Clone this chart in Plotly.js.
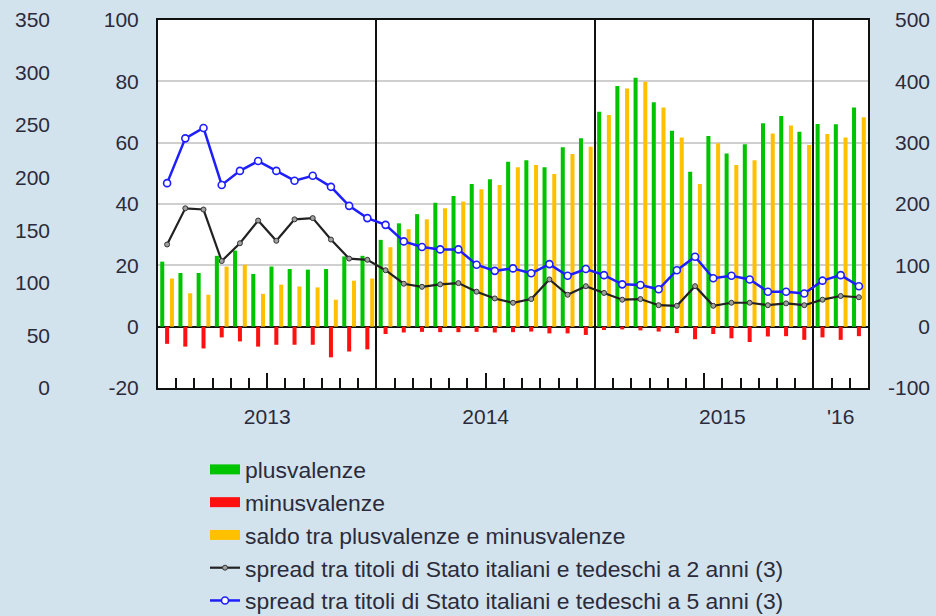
<!DOCTYPE html>
<html><head><meta charset="utf-8">
<script src="https://cdn.plot.ly/plotly-3.0.1.min.js"></script>
<style>html,body{margin:0;padding:0;background:#d3e3ee;} #chart{width:936px;height:616px;}</style>
</head><body><div id="chart"></div>
<script>
const months = [
  '2013-01','2013-02','2013-03','2013-04','2013-05','2013-06','2013-07','2013-08','2013-09','2013-10','2013-11','2013-12',
  '2014-01','2014-02','2014-03','2014-04','2014-05','2014-06','2014-07','2014-08','2014-09','2014-10','2014-11','2014-12',
  '2015-01','2015-02','2015-03','2015-04','2015-05','2015-06','2015-07','2015-08','2015-09','2015-10','2015-11','2015-12',
  '2016-01','2016-02','2016-03'
];
const plusvalenze = [
  21.2, 17.5, 17.5, 23.1, 24.8, 17.2, 19.6, 18.8, 18.6, 18.8, 22.9, 23.1,
  28.3, 33.7, 36.7, 40.4, 42.6, 46.5, 48.1, 53.8, 54.3, 52.0, 58.5, 61.4,
  70.1, 78.5, 81.2, 73.2, 63.9, 50.5, 62.2, 56.5, 59.5, 66.3, 68.7, 63.6,
  66.1, 66.0, 71.5
];
const minusvalenze = [
  -5.6, -6.5, -7.1, -3.5, -4.8, -6.5, -5.9, -5.9, -5.9, -10.0, -8.1, -7.4,
  -2.4, -1.9, -1.7, -1.8, -1.8, -1.7, -1.9, -1.8, -1.6, -2.2, -2.2, -2.7,
  -1.1, -0.9, -1.2, -1.6, -2.1, -4.1, -2.4, -3.8, -5.0, -3.2, -3.1, -4.3,
  -3.5, -4.3, -3.1
];
const saldo = [
  15.7, 10.9, 10.4, 19.6, 20.2, 10.7, 13.7, 13.1, 12.8, 8.8, 15.0, 15.7,
  25.9, 31.8, 35.0, 38.6, 40.8, 44.8, 46.2, 52.0, 52.7, 49.8, 56.3, 58.7,
  69.0, 77.7, 79.9, 71.5, 61.7, 46.5, 59.8, 52.7, 54.3, 63.0, 65.6, 59.2,
  62.8, 61.7, 68.3
];
const spread2 = [
  134, 193, 191, 107, 136, 173, 140, 175, 177, 142, 111, 109,
  92, 70, 65, 69, 71, 57, 46, 39, 45, 77, 52, 66,
  55, 44, 45, 35, 34, 66, 34, 39, 39, 35, 38, 35,
  44, 50, 48
];
const spread5 = [
  234, 307, 324, 231, 254, 270, 254, 238, 246, 228, 197, 177,
  166, 139, 130, 126, 126, 101, 91, 95, 87, 102, 83, 94,
  84, 69, 68, 61, 92, 114, 79, 83, 77, 57, 57, 54,
  75, 84, 66
];
const yearLabels = ['2013', '2014', '2015', "'16"];
const yearLabelPos = [5.5, 17.5, 30.5, 37];
const midYearTicks = [5.5, 17.5, 29.5];
const yearBreaks = [11.5, 23.5, 35.5];
const leftTicks = [-20, 0, 20, 40, 60, 80, 100];
const leftTickText = ['-20', '0', '20', '40', '60', '80', '100'];
const rightTicks = [-100, 0, 100, 200, 300, 400, 500];
const rightTickText = ['-100', '0', '100', '200', '300', '400', '500'];
const outerTicks = [0, 50, 100, 150, 200, 250, 300, 350];
const seriesNames = [
  'plusvalenze',
  'minusvalenze',
  'saldo tra plusvalenze e minusvalenze',
  'spread tra titoli di Stato italiani e tedeschi a 2 anni (3)',
  'spread tra titoli di Stato italiani e tedeschi a 5 anni (3)'
];

const x = months.map((m, i) => i);
const monthEdges = months.slice(1).map((m, i) => i + 0.5);
const xr = [-0.5, months.length - 0.5];

const GREEN = '#00c400', RED = '#ff1010', ORANGE = '#ffc000', BLUE = '#1e1eff', BLACK = '#222222';
const FONT = 'Liberation Sans, Arial, sans-serif';
const TXT = '#2b2b3b';

const traces = [
  {type: 'bar', x: x, y: plusvalenze, marker: {color: GREEN}, showlegend: false, name: seriesNames[0]},
  {type: 'bar', x: x, y: minusvalenze, marker: {color: RED}, showlegend: false, name: seriesNames[1]},
  {type: 'bar', x: x, y: saldo, marker: {color: ORANGE}, showlegend: false, name: seriesNames[2]},
  {type: 'scatter', mode: 'lines', x: [null], y: [null], line: {color: GREEN, width: 12}, name: seriesNames[0]},
  {type: 'scatter', mode: 'lines', x: [null], y: [null], line: {color: RED, width: 12}, name: seriesNames[1]},
  {type: 'scatter', mode: 'lines', x: [null], y: [null], line: {color: ORANGE, width: 12}, name: seriesNames[2]},
  {type: 'scatter', mode: 'lines+markers', x: x, y: spread2, yaxis: 'y2', name: seriesNames[3],
   line: {color: BLACK, width: 2.2}, marker: {symbol: 'circle', size: 5, color: '#a0a0a0', line: {color: '#333', width: 1}}},
  {type: 'scatter', mode: 'lines+markers', x: x, y: spread5, yaxis: 'y2', name: seriesNames[4],
   line: {color: BLUE, width: 2.5}, marker: {symbol: 'circle', size: 7, color: '#ffffff', line: {color: BLUE, width: 1.6}}},
  // empty traces that only register the helper axes
  {type: 'scatter', mode: 'none', x: [null], y: [null], xaxis: 'x2', yaxis: 'y', showlegend: false},
  {type: 'scatter', mode: 'none', x: [null], y: [null], xaxis: 'x3', yaxis: 'y', showlegend: false},
  {type: 'scatter', mode: 'none', x: [null], y: [null], xaxis: 'x', yaxis: 'y3', showlegend: false}
];

const W = 936, H = 616;
const px0 = 158, px1 = 868, py0 = 20, py1 = 388;
const tickFont = {family: FONT, size: 21, color: TXT};

const layout = {
  width: W, height: H, autosize: false,
  margin: {l: 0, r: 0, t: 0, b: 0, autoexpand: false},
  paper_bgcolor: '#d3e3ee', plot_bgcolor: '#ffffff',
  barmode: 'group', bargap: 0.2, bargroupgap: 0.17,
  hovermode: false,
  xaxis: {
    domain: [px0 / W, px1 / W], range: xr, fixedrange: true,
    showline: true, mirror: true, linecolor: '#111', linewidth: 2,
    showgrid: false, zeroline: false,
    tickmode: 'array', tickvals: midYearTicks, ticks: 'inside', ticklen: 15, tickwidth: 2, tickcolor: '#111',
    showticklabels: false,
    minor: {tickmode: 'array', tickvals: monthEdges, ticks: 'inside', ticklen: 10, tickwidth: 2, tickcolor: '#111', showgrid: false}
  },
  xaxis2: {
    overlaying: 'x', anchor: 'y', side: 'bottom', range: xr, fixedrange: true,
    showline: false, showgrid: false, zeroline: false, ticks: '',
    tickmode: 'array', tickvals: yearLabelPos, ticktext: yearLabels,
    tickfont: tickFont, ticklabelstandoff: 14
  },
  xaxis3: {
    overlaying: 'x', anchor: 'y', side: 'bottom', range: xr, fixedrange: true,
    showline: false, zeroline: false, ticks: '', showticklabels: false,
    showgrid: true, gridcolor: '#111', gridwidth: 2,
    tickmode: 'array', tickvals: yearBreaks
  },
  yaxis: {
    domain: [(H - py1) / H, (H - py0) / H], range: [-20, 100], fixedrange: true,
    showline: true, mirror: true, linecolor: '#111', linewidth: 2,
    showgrid: true, gridcolor: '#cfcfcf', gridwidth: 2,
    zeroline: true, zerolinecolor: '#111', zerolinewidth: 2,
    tickmode: 'array', tickvals: leftTicks, ticktext: leftTickText, ticks: '',
    tickfont: tickFont, ticklabelstandoff: 13
  },
  yaxis2: {
    overlaying: 'y', anchor: 'free', position: 932 / W, side: 'left',
    range: [-100, 500], fixedrange: true,
    showline: false, showgrid: false, zeroline: false,
    tickmode: 'array', tickvals: rightTicks, ticktext: rightTickText, ticks: '',
    tickfont: tickFont, ticklabelstandoff: 2
  },
  yaxis3: {
    overlaying: 'y', anchor: 'free', position: 52 / W, side: 'left',
    range: [0, 350], fixedrange: true,
    showline: false, showgrid: false, zeroline: false,
    tickmode: 'array', tickvals: outerTicks, ticks: '',
    tickfont: tickFont, ticklabelstandoff: 2
  },
  legend: {
    orientation: 'v', x: 205 / W, xanchor: 'left', y: 1 - 448 / H, yanchor: 'top',
    bgcolor: 'rgba(0,0,0,0)', borderwidth: 0,
    font: {family: FONT, size: 22.9, color: TXT}, itemwidth: 30
  },
  showlegend: true
};

Plotly.newPlot('chart', traces, layout, {displayModeBar: false, staticPlot: true});
</script>
</body></html>
